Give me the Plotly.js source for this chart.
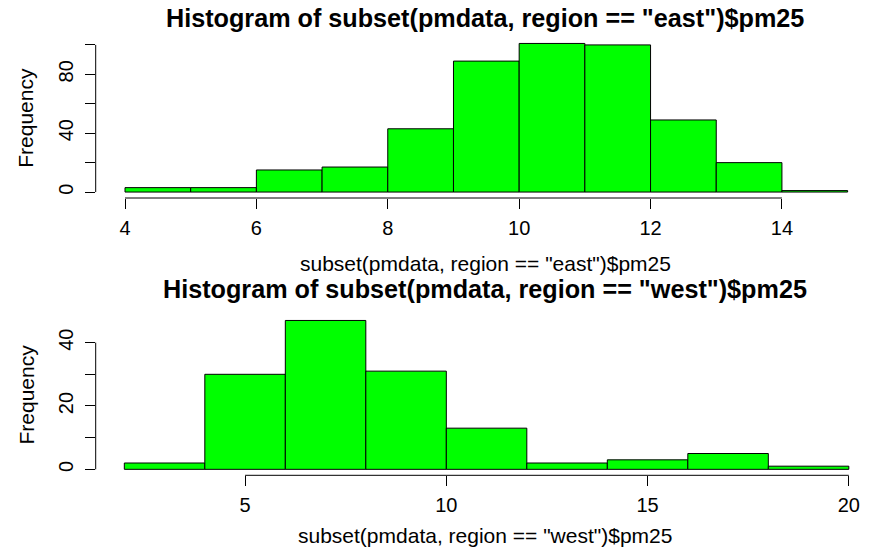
<!DOCTYPE html>
<html>
<head>
<meta charset="utf-8">
<script src="https://cdn.plot.ly/plotly-3.0.1.min.js"></script>
<style>
html,body{margin:0;padding:0;background:#fff;}
#chart{width:872px;height:553px;}
</style>
</head>
<body>
<div id="chart"></div>
<script>
// East histogram: bin edges and counts
const eastEdges = [4,5,6,7,8,9,10,11,12,13,14,15];
const eastCounts = [3,3,15,17,43,89,101,100,49,20,1];
const eastXTicks = [4,6,8,10,12,14];
const eastYTicks = [0,20,40,60,80,100];
const eastYLabels = ["0","","40","","80",""];

// West histogram: bin edges and counts
const westEdges = [2,4,6,8,10,12,14,16,18,20];
const westCounts = [2,30,47,31,13,2,3,5,1];
const westXTicks = [5,10,15,20];
const westYTicks = [0,10,20,30,40];
const westYLabels = ["0","","20","","40"];

const eastTitle = 'Histogram of subset(pmdata, region == "east")$pm25';
const eastXLabel = 'subset(pmdata, region == "east")$pm25';
const westTitle = 'Histogram of subset(pmdata, region == "west")$pm25';
const westXLabel = 'subset(pmdata, region == "west")$pm25';
const yLabel = 'Frequency';

function mids(e){ const m=[]; for(let i=0;i<e.length-1;i++) m.push((e[i]+e[i+1])/2); return m; }
function widths(e){ const w=[]; for(let i=0;i<e.length-1;i++) w.push(e[i+1]-e[i]); return w; }

const FONT = 'Liberation Sans, Arial, Helvetica, sans-serif';
const barStyle = {color:'#00FF00', line:{color:'#000000', width:1}};

const traces = [
  {type:'bar', x:mids(eastEdges), y:eastCounts, width:widths(eastEdges), marker:barStyle, xaxis:'x', yaxis:'y', hoverinfo:'x+y'},
  {type:'bar', x:mids(westEdges), y:westCounts, width:widths(westEdges), marker:barStyle, xaxis:'x2', yaxis:'y2', hoverinfo:'x+y'}
];

const xl = 95.7/872;
const topDom = [1-198/553, 1-37.5/553];
const botDom = [1-475.3/553, 1-314.5/553];

function xax(range, ticks, anchor){
  return {domain:[xl,1], range:range, anchor:anchor, tickvals:ticks, ticktext:ticks.map(String),
    ticks:'outside', ticklen:10, tickwidth:1, tickcolor:'#000', showline:false, showgrid:false, zeroline:false,
    ticklabelstandoff:2,
    tickfont:{family:FONT, size:20, color:'#000'}, fixedrange:true};
}
function yax(range, dom, ticks, labels, anchor){
  return {domain:dom, range:range, anchor:anchor, tickvals:ticks, ticktext:labels, tickangle:-90,
    ticks:'outside', ticklen:10, tickwidth:1, tickcolor:'#000', showline:false, showgrid:false, zeroline:false,
    ticklabelstandoff:4,
    tickfont:{family:FONT, size:20, color:'#000'}, fixedrange:true};
}

const shapes = [
  {type:'line', xref:'x', yref:'paper', x0:eastXTicks[0], x1:eastXTicks[eastXTicks.length-1], y0:topDom[0], y1:topDom[0], line:{color:'#000', width:1}},
  {type:'line', xref:'paper', yref:'y', x0:xl, x1:xl, y0:eastYTicks[0], y1:eastYTicks[eastYTicks.length-1], line:{color:'#000', width:1}},
  {type:'line', xref:'x2', yref:'paper', x0:westXTicks[0], x1:westXTicks[westXTicks.length-1], y0:botDom[0], y1:botDom[0], line:{color:'#000', width:1}},
  {type:'line', xref:'paper', yref:'y2', x0:xl, x1:xl, y0:westYTicks[0], y1:westYTicks[westYTicks.length-1], line:{color:'#000', width:1}}
];

const cx = 485/872;
function ann(text, x, y, size, bold, angle){
  return {text: bold ? '<b>'+text+'</b>' : text, xref:'paper', yref:'paper', x:x, y:y, xanchor:'center', yanchor:'middle',
    showarrow:false, textangle:angle||0, font:{family:FONT, size:size, color:'#000'}};
}
const annotations = [
  ann(eastTitle, cx, 1-18.5/553, 25.2, true),
  ann(eastXLabel, cx, 1-263/553, 21, false),
  ann(westTitle, cx, 1-289/553, 25.2, true),
  ann(westXLabel, cx, 1-535/553, 21, false),
  ann(yLabel, 26/872, 1-117.8/553, 21, false, -90),
  ann(yLabel, 26/872, 1-394.5/553, 21, false, -90)
];

const layout = {
  width:872, height:553, margin:{l:0,r:0,t:0,b:0},
  paper_bgcolor:'#fff', plot_bgcolor:'rgba(0,0,0,0)', showlegend:false, bargap:0,
  xaxis: xax([3.554, 15.371], eastXTicks, 'y'),
  yaxis: yax([-4.04, 105.04], topDom, eastYTicks, eastYLabels, 'x'),
  xaxis2: xax([1.289, 20.576], westXTicks, 'y2'),
  yaxis2: yax([-1.88, 48.88], botDom, westYTicks, westYLabels, 'x2'),
  shapes: shapes, annotations: annotations
};

Plotly.newPlot('chart', traces, layout, {displayModeBar:false, staticPlot:true});
</script>
</body>
</html>
